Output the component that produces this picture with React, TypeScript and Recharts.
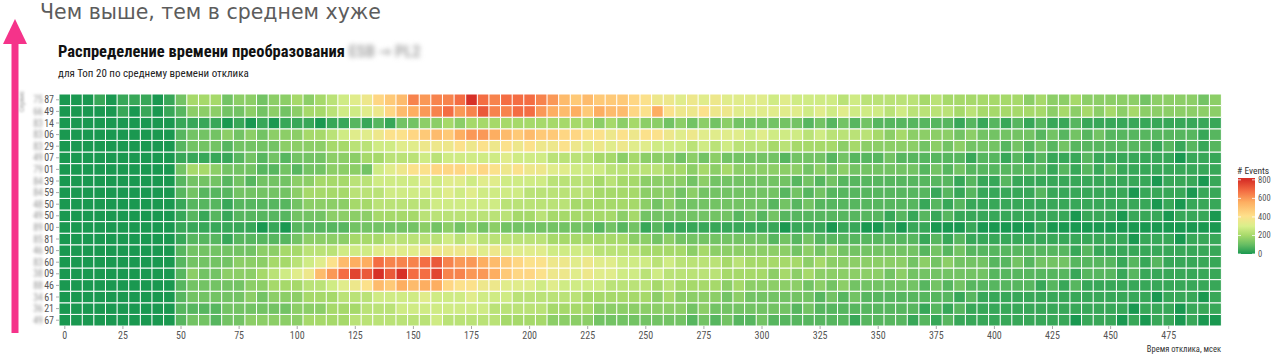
import React from 'react';
import { BarChart, Bar, XAxis, YAxis, Cell } from 'recharts';

const COND = "'Roboto Condensed', 'Liberation Sans Narrow', 'DejaVu Sans Condensed', Roboto, sans-serif";

// services, top row first
const SERVICES = [
  '7587', '6649', '8314', '8306', '8329', '4907', '7901', '8439', '8459', '4850',
  '4950', '8900', '8581', '4690', '8360', '3809', '8846', '3461', '3621', '4967',
];

// response time bins, msec
const BINS = Array.from({ length: 100 }, (_, i) => i * 5);
const LEGEND_TICKS = [800, 600, 400, 200, 0];

// one char per 5 ms bin, base-36 level, events = level * 40
const EVENT_STEP = 40;
const EVENT_LEVELS = [
  '0001011101 3555344344 5456789bcd gfgghkhghh hgfdcdcccb a998989888 8787777676 6666565555 5554544544 4443444434',
  '0000010101 2444334343 45567789bd efghfgiggh hfedeceddb aea99a9988 8888787877 7676666565 5555545454 5454444444',
  '0000000000 1111010101 1101121213 3445455555 5555554545 4434343433 3333232323 2222222121 2121211211 1111111111',
  '0000000000 2333434344 45567889aa bcdceffedc dccbbaa9a9 aa98988887 8777676666 5454444343 3333232323 2222222212',
  '0000000000 2333233334 4445566778 8999a9a9a9 a99a989898 8777676766 6565555454 4444343433 3232323222 2222121212',
  '0000000000 1111123232 3334445566 6767777787 7766665545 4443434333 3323332322 2322222212 2121211121 1111110111',
  '0000000000 3554333223 2334443789 aabbbaba9a 9988777666 6655454544 4444343433 3333232322 2222212121 2111111111',
  '0000000000 2333232333 4455566777 7878878877 7766665655 4444343333 3332323222 2222222121 1211111111 1111011101',
  '0000000000 2322233333 4555566677 7778787777 6666665555 4443433333 3323232222 2222212121 1111211111 1101111011',
  '0000000000 1222122222 3444455666 6677777766 6666555555 4343333333 3232322222 2222121211 1111111111 1111010111',
  '0000000000 1212122222 3334444555 5666666665 5655555545 3333333323 2322222222 2121212111 1111111011 1011101110',
  '0000000000 1111111010 2222233333 3434343433 3333332323 1211111111 1101110110 0101100010 0000100000 0000000000',
  '0000000000 1222122222 3444455566 6667676666 6655555554 4343333333 3232322222 2222121211 1111111111 1101110111',
  '0000000000 2333333445 5666777888 8999998988 8877776666 5555454444 4443434333 3333232322 2222222121 1111111111',
  '0000000000 2333344455 678adeehgg ghigffedcb aa99898877 7676666565 5555454444 4443434333 2232333222 2121211111',
  '0000000000 2433444567 89dfhjikik hhjggffecb ba99898877 6766666555 5454544444 4343333333 2222222122 2121111111',
  '0000000000 2333334455 566789adce deebaa9988 8787777666 6565555454 4444343433 3333232322 2222121211 1111111111',
  '0000000000 2333334344 4555666777 7877787776 6666655555 5454444343 3333323232 2222222121 1111111111 1111011101',
  '0000000000 2222333333 4445556667 7777777666 6655554444 4444343333 3332322222 2222121211 1111111111 1101110111',
  '0000000000 2332334444 4555566666 6676666655 5544443333 3333232322 3222222212 2221212111 1111111011 1010110100',
];

const events = EVENT_LEVELS.map((r) =>
  r.replace(/ /g, '').split('').map((ch) => parseInt(ch, 36) * EVENT_STEP)
);

const STOPS: [number, string][] = [
  [0, '#1a9850'],
  [100, '#66bd63'],
  [200, '#a6d96a'],
  [300, '#d9ef8b'],
  [410, '#fee08b'],
  [560, '#fdae61'],
  [680, '#f46d43'],
  [800, '#d73027'],
];

const hex = (c: string) => [1, 3, 5].map((i) => parseInt(c.slice(i, i + 2), 16));

const colour = (v: number) => {
  if (v <= STOPS[0][0]) return STOPS[0][1];
  for (let i = 1; i < STOPS.length; i++) {
    const [v1, c1] = STOPS[i];
    if (v <= v1) {
      const [v0, c0] = STOPS[i - 1];
      const t = (v - v0) / (v1 - v0);
      const a = hex(c0);
      const b = hex(c1);
      return `rgb(${a.map((x, k) => Math.round(x + (b[k] - x) * t)).join(',')})`;
    }
  }
  return STOPS[STOPS.length - 1][1];
};

const data = BINS.map((bin) => {
  const row: Record<string, number> = { bin };
  SERVICES.forEach((s) => {
    row[s] = 1;
  });
  return row;
});

const Y_TICKS = SERVICES.map((_, i) => i + 0.5);

const ServiceTick = (props: any) => {
  const { x, y, payload } = props;
  const name = SERVICES[SERVICES.length - 1 - Math.floor(payload.value)];
  return (
    <g transform={`translate(${x},${y})`}>
      <text x={-11} y={0} dy={3.5} textAnchor="end" fontSize={10} fill="#999"
        fontFamily={COND} style={{ filter: 'blur(1.4px)' }}>
        {name.slice(0, 2)}
      </text>
      <text x={0} y={0} dy={3.5} textAnchor="end" fontSize={10} fill="#555" fontFamily={COND}>
        {name.slice(2)}
      </text>
    </g>
  );
};

const Legend = () => {
  const top = 178;
  const bottom = 254;
  const max = 820;
  const yOf = (v: number) => bottom - (v / max) * (bottom - top);
  return (
    <svg width={60} height={110} style={{ position: 'absolute', left: 1225, top: 160 }}>
      <defs>
        <linearGradient id="evgrad" x1="0" y1="1" x2="0" y2="0">
          {STOPS.map(([v, c]) => (
            <stop key={v} offset={v / max} stopColor={c} />
          ))}
          <stop offset={1} stopColor={STOPS[STOPS.length - 1][1]} />
        </linearGradient>
      </defs>
      <text x={12} y={14} fontSize={9.5} fill="#333" fontFamily={COND}># Events</text>
      <rect x={13} y={top - 160} width={17} height={bottom - top} fill="url(#evgrad)" />
      {LEGEND_TICKS.map((t) => (
        <g key={t}>
          <line x1={13} x2={16} y1={yOf(t) - 160} y2={yOf(t) - 160} stroke="#fff" strokeWidth={0.8} />
          <line x1={27} x2={30} y1={yOf(t) - 160} y2={yOf(t) - 160} stroke="#fff" strokeWidth={0.8} />
          <text x={33} y={yOf(t) - 160 + 3} fontSize={8.5} fill="#555" fontFamily={COND}>{t}</text>
        </g>
      ))}
    </svg>
  );
};

export default function App() {
  return (
    <div style={{ position: 'absolute', left: 0, top: 0, width: 1280, height: 359, background: '#fff', overflow: 'hidden' }}>
      <BarChart
        width={1280}
        height={359}
        data={data}
        margin={{ top: 94, right: 59, bottom: 0, left: 0 }}
        barCategoryGap={0}
        barGap={0}
        style={{ position: 'absolute', left: 0, top: 0 }}
      >
        <XAxis
          dataKey="bin"
          interval={4}
          height={33}
          axisLine={false}
          tickSize={3}
          tickMargin={3}
          tickLine={{ stroke: '#aaa' }}
          tick={{ fontSize: 10, fill: '#555', fontFamily: COND }}
        />
        <YAxis
          type="number"
          domain={[0, SERVICES.length]}
          ticks={Y_TICKS}
          interval={0}
          width={59}
          axisLine={false}
          tickSize={3}
          tickMargin={2}
          tickLine={{ stroke: '#aaa' }}
          tick={(p: any) => <ServiceTick {...p} />}
        />
        {[...SERVICES].reverse().map((s) => {
          const r = SERVICES.indexOf(s);
          return (
            <Bar key={s} dataKey={s} stackId="heat" isAnimationActive={false}>
              {BINS.map((b, c) => (
                <Cell key={b} fill={colour(events[r][c])} stroke="#fff" strokeWidth={1} />
              ))}
            </Bar>
          );
        })}
      </BarChart>

      <svg width={32} height={340} style={{ position: 'absolute', left: 0, top: 0 }}>
        <polygon points="15,19 3,44 27,44" fill="#f5338a" />
        <rect x={11.5} y={43} width={7} height={290} fill="#f5338a" />
      </svg>

      <div style={{ position: 'absolute', left: 40, top: 0, fontFamily: "'DejaVu Sans', sans-serif", fontSize: 20.5, lineHeight: '25px', color: '#5c5c5c', whiteSpace: 'nowrap' }}>
        Чем выше, тем в среднем хуже
      </div>

      <div style={{ position: 'absolute', left: 58, top: 42, fontFamily: COND, fontSize: 16.5, lineHeight: '19px', fontWeight: 700, color: '#111', whiteSpace: 'nowrap' }}>
        Распределение времени преобразования{' '}
        <span style={{ color: '#aaa', filter: 'blur(2.5px)', display: 'inline-block' }}>ESB → PL2</span>
      </div>

      <div style={{ position: 'absolute', left: 58, top: 67, fontFamily: COND, fontSize: 11, lineHeight: '14px', color: '#222', whiteSpace: 'nowrap' }}>
        для Топ 20 по среднему времени отклика
      </div>

      <div style={{ position: 'absolute', left: 18, top: 112, fontFamily: COND, fontSize: 7, color: '#999', transform: 'rotate(-90deg)', transformOrigin: 'left top', filter: 'blur(1px)', whiteSpace: 'nowrap' }}>
        Сервис
      </div>

      <div style={{ position: 'absolute', right: 1280 - 1221, top: 344, fontFamily: COND, fontSize: 8.5, color: '#333', whiteSpace: 'nowrap' }}>
        Время отклика, мсек
      </div>

      <Legend />
    </div>
  );
}
